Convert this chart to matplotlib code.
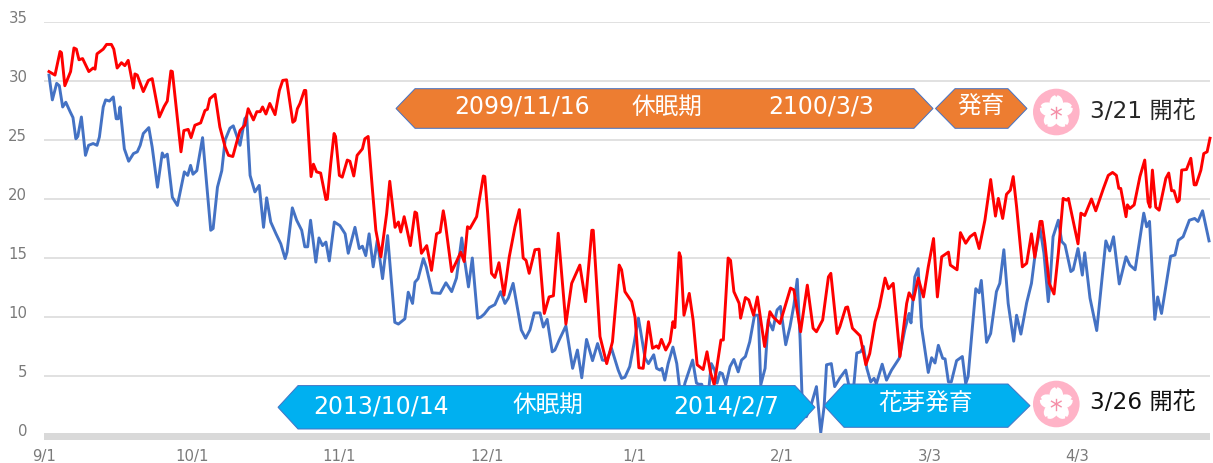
import numpy as np
import matplotlib
matplotlib.use("Agg")
import matplotlib.pyplot as plt
from matplotlib.patches import Polygon, Circle, Ellipse

FONT = ['DejaVu Sans', 'Noto Sans CJK JP']
plt.rcParams['font.family'] = FONT

# days since 9/1 and temperatures
red_days = [0,1.25,2.3,2.6,3.3,4.5,5.2,5.7,6.25,7,8.3,9.2,9.6,10,11.3,12,13,13.5,14.2,15.1,15.8,16.5,17.6,17.9,18.4,19.65,20.7,21.5,23,24,24.65,25.4,25.7,27.5,28.1,29,29.6,30.4,31.6,32.5,33,33.5,34.6,35.6,36.7,37.4,38.3,39.1,39.8,
 40.8,41.5,42.6,43.3,44,44.5,45.2,46,47.1,48,48.7,49.5,50.8,51.25,51.75,52.3,53.2,53.5,54.6,55.1,55.75,56.6,57.7,58,58.7,59.4,59.7,60.5,61.1,62.15,62.7,63.5,64.2,65.3,65.8,66.5,67.4,68.1,69.15,70.35,71,72.1,72.8,73.3,74,74.5,75.3,76.25,76.6,77.6,78.7,79.7,80.75,81.5,
 82.15,82.5,83.9,84.9,85.8,86.5,87.2,87.7,89.1,89.65,90.5,90.8,91.4,92.2,92.9,93.75,94.8,95.9,97.1,98,98.8,99.4,100.05,101.25,102.1,103.2,104.2,105.1,106.1,107.7,108.9,110.6,111.8,113.1,113.4,114.8,116.2,117.4,118.8,119.3,120,121.4,122.1,122.9,
 123.8,124.9,125.75,126.6,127,127.6,128.5,129.4,130,130.4,131.3,131.6,132.3,133.4,134.2,135.05,136.3,137.1,137.8,138.6,140,140.5,141.5,142,142.7,143.8,144.1,145.1,145.8,146.8,147.6,149.1,150.2,150.9,152.3,153.7,154.5,155.2,156.6,158,159.2,159.9,161.2,162.4,162.9,164.2,164.8,
 166,166.4,167.4,169,170.2,171,172.1,173,174.2,174.9,175.9,177.3,178.7,179.2,180.1,181.1,182.2,183.2,184.3,185.1,186,187.4,187.8,189.2,189.9,191,191.9,192.9,193.8,195,196.2,197.2,197.8,198.7,199.5,200.3,200.9,201.6,202.8,203.7,204.7,205.4,206.5,206.9,207.5,208.4,209.4,210.3,211.3,212,212.4,213,214.4,215,215.8,216.5,217.2,218.1,219.7,220.7,221.6,222.4,222.9,223.3,223.8,224.4,224.7,225.2,226.1,227.3,228.3,229,229.4,229.9,230.6,231.3,232.7,233.3,233.9,234.4,235.1,235.5,236,237,237.9,238.6,239,240,240.6,241.3,241.9]
red_temps = [30.8,30.5,32.5,32.4,29.6,30.8,32.8,32.7,31.8,31.9,30.8,31.1,31,32.3,32.7,33.1,33.1,32.7,31.1,31.55,31.3,31.75,29.4,30.6,30.5,29.1,30.05,30.2,26.95,27.85,28.3,30.85,30.8,24,25.8,25.9,25.2,26.25,26.45,27.5,27.6,28.5,28.87,26.1,24.4,23.7,23.6,24.8,25.8,
 26.25,27.65,26.7,27.4,27.4,27.8,27.2,28.1,27.15,29.2,30.05,30.1,26.5,26.65,27.65,28.1,29.2,29.2,21.9,22.95,22.3,22.2,19.95,20,23,25.55,25.3,22,21.85,23.3,23.2,21.95,23.7,24.25,25.1,25.3,20.75,17.35,15.1,18.75,21.5,17.6,18.05,17.2,18.5,17.6,16.05,18.9,18.8,15.4,16.05,13.95,17.05,17.2,
 19,18.2,13.85,14.7,15.5,14.7,17.65,17.5,18.5,19.9,21.95,21.9,18.8,13.7,13.35,14.6,11.85,15.1,17.65,19.1,15,14.8,13.7,15.7,15.75,10.3,11.7,11.8,17.1,9.4,12.85,14.4,11.3,17.35,17.35,8.35,6.05,7.9,14.4,14,12.15,11.3,10,5.7,
 5.65,9.6,7.35,7.55,7.35,8.1,7.2,7.9,9.6,9.1,15.45,15.1,10.15,12,9.75,5.95,5.55,7.05,5.35,4.25,8.05,8.05,15,14.8,12.15,11.15,9.9,11.65,11.45,10.15,11.7,7.5,10.45,10,9.45,11.35,12.45,12.3,8.75,12.7,9.05,8.75,9.75,13.4,13.7,8.6,9.2,
 10.8,10.85,9.05,8.4,5.95,6.9,9.6,10.85,13.3,12.4,12.85,6.65,11.15,12.05,11.45,13.3,11.7,14.25,16.65,11.7,15.1,15.5,14.4,14,17.15,16.25,16.8,17.1,15.8,18.2,21.65,18.55,20.05,18.35,20.4,20.75,21.9,19.35,14.25,14.55,17.05,15.05,18.1,18.1,16.25,12.85,11.95,15.4,20.05,19.9,20.05,18.9,16.2,18.8,18.6,19.3,20,19,20.9,22,22.25,22,20.9,20.9,19.8,18.5,19.5,19.2,19.5,21.9,23.3,19.75,19.3,22.45,19.3,19.05,21.75,22.2,20.7,20.7,19.75,19.9,22.45,22.5,23.45,21.2,21.2,22.45,23.85,24,25.15]

blue_days = [0,0.7,1.6,2.15,2.85,3.5,4.4,5,5.6,6,6.75,7.6,8.25,9.2,10,10.5,11.3,11.8,12.6,13.4,14,14.45,14.8,15.7,16.6,17.6,18.4,19,19.65,20.8,21.5,22.6,23.6,24,24.65,25.7,26.75,28.2,28.9,29.5,30,30.8,32,32.6,33.7,34.2,35.1,36,36.7,37.7,38.4,39.8,
 40.8,41.2,41.9,42.9,43.8,44.7,45.35,46.2,47.3,48.3,49.2,49.6,50.7,51.6,52.65,53.3,53.9,54.5,55.6,56.25,57,57.7,58.4,59.45,60.6,61.7,62.35,63.75,64.65,65.3,66,66.7,67.55,68.4,69.5,70.55,72.05,72.8,74.15,74.85,75.75,76.25,76.9,78,78.6,79.85,81.5,
 82.7,83.9,84.9,86,86.5,87.4,88.2,89.3,90,90.7,91.75,92.9,94.1,95,95.7,96.7,98.4,99.3,100.2,101.1,102.3,103,103.8,104.85,105.4,106.3,107.7,109.1,110.1,111,112,113.25,114.3,115.3,116.2,117.2,118.6,119.3,120,121,121.9,122.8,
 123.1,124.2,124.9,126,126.6,127.3,127.7,128.3,129,130,130.8,131.3,131.7,132.5,134.1,134.9,135.4,136,136.6,137.3,138,138.7,139.2,139.8,140.3,141,141.9,142.7,143.6,144.3,145.1,146,147,147.8,148.3,149.2,149.85,150.8,151.7,152.4,153.5,154.4,155.2,155.9,156.5,156.9,157.8,158.9,159.9,160.8,161.5,162,163,163.7,164.8,
 166,166.6,167.6,168.3,169.1,169.7,170.4,171.2,171.9,172.4,173.6,174.5,175.55,177.15,178.3,179.2,179.6,180.4,181.1,181.8,183.2,183.9,184.6,185.3,186.2,186.7,187.4,188,189.1,190.3,191,191.5,193.1,193.8,194.25,195.35,196.2,197.4,198.1,198.95,199.85,201,201.6,202.5,203.7,204.7,205.4,206.5,207.3,208.2,208.6,209.2,210.3,211,211.7,212.9,213.4,214.4,215.3,215.8,216.9,218.3,220.2,221,221.8,223,224.4,225.2,226.3,228.1,228.7,229.3,230.4,231,231.8,233.7,234.6,235.3,236.3,237.6,238.7,239.4,240.35,241.7]
blue_temps = [30.5,28.4,29.8,29.6,27.8,28.2,27.4,26.9,25.1,25.3,26.95,23.7,24.55,24.7,24.55,25.25,27.8,28.4,28.3,28.65,26.8,26.8,27.8,24.25,23.2,23.85,24,24.55,25.55,26.05,24.4,21,23.9,23.55,23.8,20.15,19.45,22.3,22,22.85,22.1,22.4,25.2,22.4,17.35,17.5,21,22.4,25,26,26.2,24.55,
 26.8,27,22,20.6,21.15,17.6,20.1,18.05,17.05,16.2,14.95,15.5,19.25,18.2,17.35,15.95,15.95,18.2,14.65,16.7,16.05,16.35,14.75,18.05,17.75,17.05,15.4,17.6,15.8,16,15.2,17.05,14.25,16.5,13.25,16.9,9.55,9.4,9.85,12.1,11.15,12.95,13.25,14.95,14.25,12.05,12,
 12.9,12.15,13.3,16.7,15.1,12.55,15,9.9,10,10.25,10.8,11.05,12.15,11.15,11.6,12.85,8.9,8.2,8.9,10.35,10.35,9.15,9.8,7.05,7.2,8.05,9.25,5.65,7.2,4.85,8.1,6.3,7.75,6.35,6.3,7.35,5.5,4.8,4.9,5.8,7.75,9.9,
 9.2,6.5,6.05,6.8,5.65,5.5,5.65,4.65,6.05,7.45,6.05,4.3,2.8,4.4,6.35,4.4,4.3,4.3,3.5,3.2,6.05,5.5,4.4,5.3,5.2,4.25,5.8,6.4,5.35,6.35,6.65,7.9,10.15,10.15,4.25,5.65,9.75,8.9,10.6,10.9,7.65,9.2,11,13.2,8.05,3.25,1.55,2.7,4.1,0.2,2.4,5.95,6.05,4.1,4.85,
 5.5,4.3,3.8,6.95,7.05,7.5,5.65,4.5,4.8,4.35,6,4.65,5.5,6.5,8.9,10.3,9.5,13.4,14.1,9.15,5.3,6.55,6.1,7.6,6.5,6.45,4.5,4.5,6.3,6.65,4.35,4.95,12.4,12.05,13.1,7.85,8.6,12.15,12.85,15.7,11.15,7.95,10.15,8.55,11.2,12.85,15.1,17.5,15.4,11.3,13,16.8,18.2,16.4,16.1,13.85,14,15.8,13.55,15.45,11.6,8.85,16.45,15.6,16.8,12.8,15.1,14.4,14,18.8,17.65,18.1,9.8,11.7,10.3,15.15,15.25,16.5,16.8,18.2,18.35,18.1,19,16.45]

tick_labels = ['9/1','10/1','11/1','12/1','1/1','2/1','3/3','4/3']
tick_days = [-1.04,29.75,60.5,91.25,122,152.7,183.5,214.2]
y_ticks = [0,5,10,15,20,25,30,35]

W, H = 1213, 463
fig = plt.figure(figsize=(W/100, H/100), dpi=100, facecolor='white')
ax = fig.add_axes([44/W, (H-435)/H, (1210-44)/W, 413/H])
ax.set_xlim(-1.04, 241.9)
ax.set_ylim(0, 35)
for s in ax.spines.values():
    s.set_visible(False)
ax.set_yticks(y_ticks)
ax.set_xticks(tick_days)
ax.set_xticklabels(tick_labels)
ax.set_yticklabels([])
ax.tick_params(length=0)
ax.tick_params(axis='x', labelsize=10.7, labelcolor='#7a7a7a', pad=10)
ax.grid(axis='y', color='#d9d9d9', lw=1.1)
ax.set_axisbelow(True)
ax.plot(blue_days, blue_temps, color='#4472c4', lw=2.1, solid_joinstyle='round', zorder=3, clip_on=False)
ax.plot(red_days, red_temps, color='#ff0000', lw=2.1, solid_joinstyle='round', zorder=4, clip_on=False)
# y tick labels sit slightly above their gridlines
for v in y_ticks:
    ax.annotate(str(v), xy=(0, v), xycoords=('axes fraction', 'data'), xytext=(-12, 2.2),
                textcoords='offset points', ha='right', va='center', fontsize=10.7, color='#7a7a7a')

# overlay in pixel coordinates for the drawn-on shapes
ov = fig.add_axes([0, 0, 1, 1], facecolor='none')
ov.set_xlim(0, W)
ov.set_ylim(H, 0)
ov.axis('off')
ov.add_patch(Polygon([(44, 433), (1210, 433), (1210, 440), (44, 440)], fc='#d9d9d9', ec='none', zorder=1))

EDGE = '#4472c4'
def banner(l, ls, rs, r, t, b, color):
    m = (t + b) / 2
    ov.add_patch(Polygon([(l, m), (ls, t), (rs, t), (r, m), (rs, b), (ls, b)],
                         fc=color, ec=EDGE, lw=0.7, zorder=5))

ORANGE = '#ed7d31'
CYAN = '#00b0f0'
banner(396, 415, 914, 933, 88.7, 128.3, ORANGE)
banner(935.5, 955, 1008, 1027, 88.7, 128.3, ORANGE)
banner(278, 298, 795, 815, 385.6, 429, CYAN)
banner(824, 844, 1008, 1030, 384, 427.3, CYAN)

def label(x, y, s, color='white', size=17, ha='center'):
    ov.text(x, y, s, color=color, fontsize=size, ha=ha, va='center', family=FONT, zorder=6)

label(522, 107, '2099/11/16')
label(667, 107, '休眠期')
label(821, 107, '2100/3/3')
label(981, 107, '発育')
label(381, 406, '2013/10/14')
label(548, 405, '休眠期')
label(726, 406, '2014/2/7')
label(925.5, 403, '花芽発育')
label(1090, 112, '3/21 開花', color='#262626', ha='left', size=16.7)
label(1090.5, 403, '3/26 開花', color='#111111', ha='left', size=16.7)

def flower(cx, cy):
    pink = '#ffb3c7'
    ov.add_patch(Circle((cx, cy), 23.3, fc=pink, ec='none', zorder=5))
    for k in range(5):
        a = np.deg2rad(-90 + 72 * k)
        px, py = cx + 9 * np.cos(a), cy + 9 * np.sin(a)
        ov.add_patch(Ellipse((px, py), 13.5, 16, angle=np.rad2deg(a) + 90, fc='white', ec='none', zorder=6))
        tx, ty = cx + 17.5 * np.cos(a), cy + 17.5 * np.sin(a)
        ux, uy = -np.sin(a), np.cos(a)
        ov.add_patch(Polygon([(tx + 2.5*ux + 1*np.cos(a), ty + 2.5*uy + 1*np.sin(a)),
                              (tx - 2.5*ux + 1*np.cos(a), ty - 2.5*uy + 1*np.sin(a)),
                              (tx - 2.5*np.cos(a), ty - 2.5*np.sin(a))], fc=pink, ec='none', zorder=6.5))
    ov.add_patch(Circle((cx, cy), 8, fc='white', ec='none', zorder=6))
    for k in range(3):
        a = np.deg2rad(90 + 60 * k)
        ov.plot([cx - 5.5*np.cos(a), cx + 5.5*np.cos(a)], [cy - 5.5*np.sin(a), cy + 5.5*np.sin(a)],
                color='#f58fa8', lw=1.0, zorder=7)

flower(1056.3, 112)
flower(1056.3, 404)

fig.savefig('out.png', dpi=100, facecolor='white')
